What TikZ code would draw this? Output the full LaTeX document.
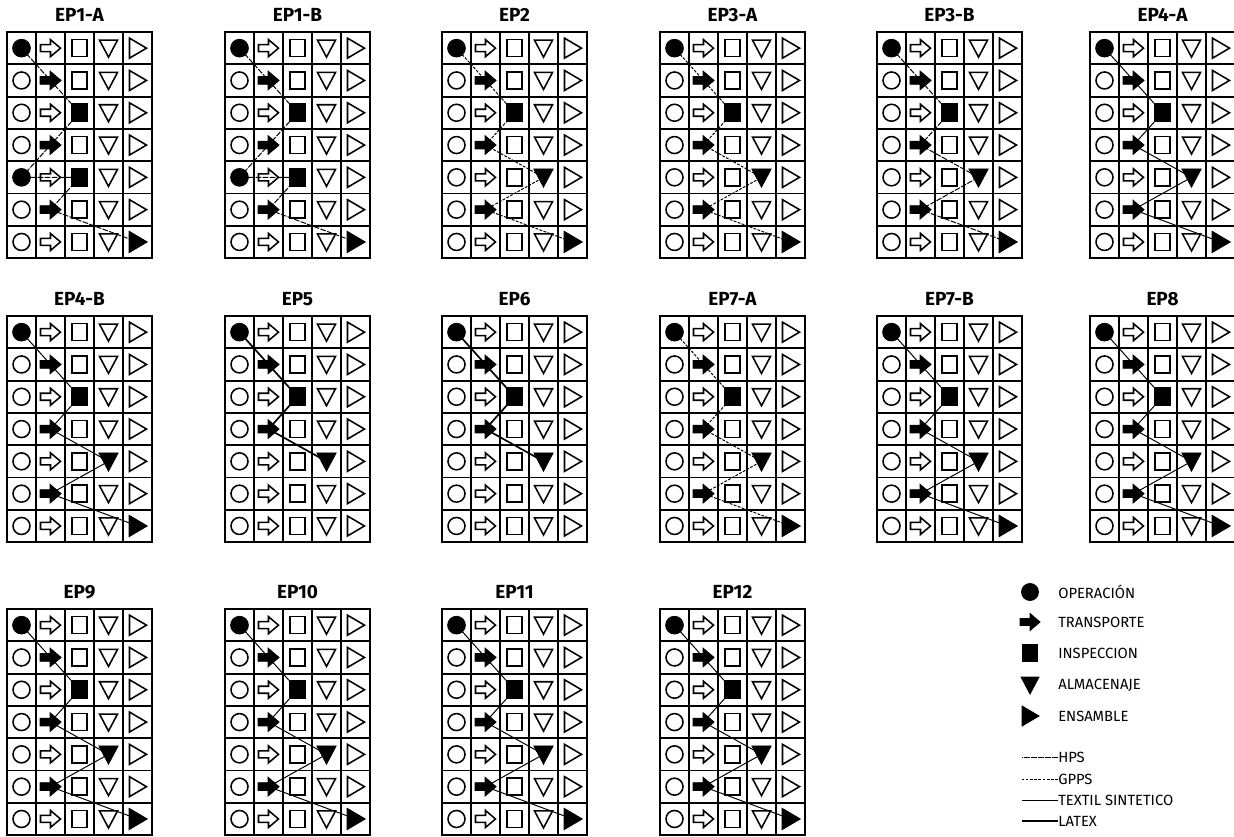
\documentclass[tikz,border=0pt]{standalone}
\usepackage{fontspec}
\setmainfont{Fira Sans}
\usetikzlibrary{positioning, calc}

% one symbol of the chart, drawn round (0,0), sizes in px
\newcommand{\epsym}[2]{%
  \ifcase#1\relax
    \path[#2] (0,0) circle[radius=8.5];
  \or
    \path[#2] (-10,-3.5) -- (0,-3.5) -- (0,-8.5) -- (10,0) -- (0,8.5) -- (0,3.5) -- (-10,3.5) -- cycle;
  \or
    \path[#2] (-7.5,-8.5) rectangle (7.5,8.5);
  \or
    \path[#2] (-9,-8) -- (9,-8) -- (0,9) -- cycle;
  \or
    \path[#2] (-8,-10) -- (9,0) -- (-8,10) -- cycle;
  \fi}

% grid of 5 x 7 cells: name, left, top, title
\newcommand{\epgrid}[4]{%
  \node[eptitle] (#1) at (#2+72.5, #3-17) {#4};
  \foreach \c in {0,...,4}
    \foreach \r in {0,...,6} {
      \node[cell] (#1-\c-\r) at (#2+14.5+29*\c, #3+16.15+32.3*\r) {};
      \begin{scope}[shift={(#1-\c-\r.center)}] \epsym{\c}{symopen} \end{scope}
    }
}

% filled symbols on the route
\newcommand{\epmark}[2]{%
  \foreach \c/\r in {#2} {
    \begin{scope}[shift={(#1-\c-\r.center)}] \epsym{\c}{symfill} \end{scope}
  }
}

\tikzset{
  cell/.style={rectangle, draw, line width=1.3pt, minimum width=0.725cm, minimum height=0.8075cm, inner sep=0pt},
  eptitle/.style={font=\fontsize{13.5}{15}\selectfont\bfseries, inner sep=0pt},
  symopen/.style={draw, fill=white, line width=1.1pt},
  symfill/.style={draw, fill=black, line width=0.6pt},
  legtext/.style={font=\fontsize{10.5}{12}\selectfont, anchor=west, inner sep=0pt},
  hpsline/.style={line width=0.7pt, dash pattern=on 4pt off 1pt},
  gppsline/.style={line width=0.7pt, dash pattern=on 2pt off 1pt},
  textilline/.style={line width=0.7pt},
  latexline/.style={line width=1.2pt}
}

\begin{document}
\begin{tikzpicture}[x=0.025cm, y=-0.025cm]
  \useasboundingbox (0,0) rectangle (1234,836);

  % row 1
  \epgrid{ep1a}{7}{32}{EP1-A}
  \draw[hpsline] (ep1a-0-0.center) -- (ep1a-1-1.center) -- (ep1a-2-2.center) -- (ep1a-1-3.center) -- (ep1a-0-4.center) -- (ep1a-2-4.center) -- (ep1a-1-5.center) -- (ep1a-4-6.center);
  \epmark{ep1a}{0/0, 1/1, 2/2, 1/3, 0/4, 2/4, 1/5, 4/6}

  \epgrid{ep1b}{225}{32}{EP1-B}
  \draw[hpsline] (ep1b-0-0.center) -- (ep1b-1-1.center) -- (ep1b-2-2.center) -- (ep1b-1-3.center) -- (ep1b-0-4.center) -- (ep1b-2-4.center) -- (ep1b-1-5.center) -- (ep1b-4-6.center);
  \epmark{ep1b}{0/0, 1/1, 2/2, 1/3, 0/4, 2/4, 1/5, 4/6}

  \epgrid{ep2}{442}{32}{EP2}
  \draw[gppsline] (ep2-0-0.center) -- (ep2-1-1.center) -- (ep2-2-2.center) -- (ep2-1-3.center) -- (ep2-3-4.center) -- (ep2-1-5.center) -- (ep2-4-6.center);
  \epmark{ep2}{0/0, 1/1, 2/2, 1/3, 3/4, 1/5, 4/6}

  \epgrid{ep3a}{660}{32}{EP3-A}
  \draw[gppsline] (ep3a-0-0.center) -- (ep3a-1-1.center) -- (ep3a-2-2.center) -- (ep3a-1-3.center) -- (ep3a-3-4.center) -- (ep3a-1-5.center) -- (ep3a-4-6.center);
  \epmark{ep3a}{0/0, 1/1, 2/2, 1/3, 3/4, 1/5, 4/6}

  \epgrid{ep3b}{877}{32}{EP3-B}
  \draw[hpsline] (ep3b-0-0.center) -- (ep3b-1-1.center) -- (ep3b-2-2.center) -- (ep3b-1-3.center) -- (ep3b-3-4.center) -- (ep3b-1-5.center) -- (ep3b-4-6.center);
  \epmark{ep3b}{0/0, 1/1, 2/2, 1/3, 3/4, 1/5, 4/6}

  \epgrid{ep4a}{1090}{32}{EP4-A}
  \draw[textilline] (ep4a-0-0.center) -- (ep4a-1-1.center) -- (ep4a-2-2.center) -- (ep4a-1-3.center) -- (ep4a-3-4.center) -- (ep4a-1-5.center) -- (ep4a-4-6.center);
  \epmark{ep4a}{0/0, 1/1, 2/2, 1/3, 3/4, 1/5, 4/6}

  % row 2
  \epgrid{ep4b}{7}{316}{EP4-B}
  \draw[textilline] (ep4b-0-0.center) -- (ep4b-1-1.center) -- (ep4b-2-2.center) -- (ep4b-1-3.center) -- (ep4b-3-4.center) -- (ep4b-1-5.center) -- (ep4b-4-6.center);
  \epmark{ep4b}{0/0, 1/1, 2/2, 1/3, 3/4, 1/5, 4/6}

  \epgrid{ep5}{225}{316}{EP5}
  \draw[latexline] (ep5-0-0.center) -- (ep5-1-1.center) -- (ep5-2-2.center) -- (ep5-1-3.center) -- (ep5-3-4.center);
  \epmark{ep5}{0/0, 1/1, 2/2, 1/3, 3/4}

  \epgrid{ep6}{442}{316}{EP6}
  \draw[latexline] (ep6-0-0.center) -- (ep6-1-1.center) -- (ep6-2-2.center) -- (ep6-1-3.center) -- (ep6-3-4.center);
  \epmark{ep6}{0/0, 1/1, 2/2, 1/3, 3/4}

  \epgrid{ep7a}{660}{316}{EP7-A}
  \draw[gppsline] (ep7a-0-0.center) -- (ep7a-1-1.center) -- (ep7a-2-2.center) -- (ep7a-1-3.center) -- (ep7a-3-4.center) -- (ep7a-1-5.center) -- (ep7a-4-6.center);
  \epmark{ep7a}{0/0, 1/1, 2/2, 1/3, 3/4, 1/5, 4/6}

  \epgrid{ep7b}{877}{316}{EP7-B}
  \draw[textilline] (ep7b-0-0.center) -- (ep7b-1-1.center) -- (ep7b-2-2.center) -- (ep7b-1-3.center) -- (ep7b-3-4.center) -- (ep7b-1-5.center) -- (ep7b-4-6.center);
  \epmark{ep7b}{0/0, 1/1, 2/2, 1/3, 3/4, 1/5, 4/6}

  \epgrid{ep8}{1090}{316}{EP8}
  \draw[textilline] (ep8-0-0.center) -- (ep8-1-1.center) -- (ep8-2-2.center) -- (ep8-1-3.center) -- (ep8-3-4.center) -- (ep8-1-5.center) -- (ep8-4-6.center);
  \epmark{ep8}{0/0, 1/1, 2/2, 1/3, 3/4, 1/5, 4/6}

  % row 3
  \epgrid{ep9}{7}{609}{EP9}
  \draw[textilline] (ep9-0-0.center) -- (ep9-1-1.center) -- (ep9-2-2.center) -- (ep9-1-3.center) -- (ep9-3-4.center) -- (ep9-1-5.center) -- (ep9-4-6.center);
  \epmark{ep9}{0/0, 1/1, 2/2, 1/3, 3/4, 1/5, 4/6}

  \epgrid{ep10}{225}{609}{EP10}
  \draw[textilline] (ep10-0-0.center) -- (ep10-1-1.center) -- (ep10-2-2.center) -- (ep10-1-3.center) -- (ep10-3-4.center) -- (ep10-1-5.center) -- (ep10-4-6.center);
  \epmark{ep10}{0/0, 1/1, 2/2, 1/3, 3/4, 1/5, 4/6}

  \epgrid{ep11}{442}{609}{EP11}
  \draw[textilline] (ep11-0-0.center) -- (ep11-1-1.center) -- (ep11-2-2.center) -- (ep11-1-3.center) -- (ep11-3-4.center) -- (ep11-1-5.center) -- (ep11-4-6.center);
  \epmark{ep11}{0/0, 1/1, 2/2, 1/3, 3/4, 1/5, 4/6}

  \epgrid{ep12}{660}{609}{EP12}
  \draw[textilline] (ep12-0-0.center) -- (ep12-1-1.center) -- (ep12-2-2.center) -- (ep12-1-3.center) -- (ep12-3-4.center) -- (ep12-1-5.center) -- (ep12-4-6.center);
  \epmark{ep12}{0/0, 1/1, 2/2, 1/3, 3/4, 1/5, 4/6}

  % legend
  \node[legtext] (lop) at (1058,592) {OPERACIÓN};
  \node[legtext] (ltr) at (1058,622) {TRANSPORTE};
  \node[legtext] (lin) at (1058,653) {INSPECCION};
  \node[legtext] (lal) at (1058,685) {ALMACENAJE};
  \node[legtext] (len) at (1058,716) {ENSAMBLE};
  \begin{scope}[shift={(1030,592)}] \epsym{0}{symfill} \end{scope}
  \begin{scope}[shift={(1030,622)}] \epsym{1}{symfill} \end{scope}
  \begin{scope}[shift={(1030,653)}] \epsym{2}{symfill} \end{scope}
  \begin{scope}[shift={(1030,685)}] \epsym{3}{symfill} \end{scope}
  \begin{scope}[shift={(1030,716)}] \epsym{4}{symfill} \end{scope}

  \node[legtext] (lhps) at (1058,757) {HPS};
  \node[legtext] (lgpps) at (1058,779) {GPPS};
  \node[legtext] (ltex) at (1058,800) {TEXTIL SINTETICO};
  \node[legtext] (llat) at (1058,821) {LATEX};
  \draw[hpsline] (lhps.west) -- ++(-36,0);
  \draw[gppsline] (lgpps.west) -- ++(-36,0);
  \draw[textilline] (ltex.west) -- ++(-36,0);
  \draw[latexline] (llat.west) -- ++(-36,0);
\end{tikzpicture}
\end{document}
